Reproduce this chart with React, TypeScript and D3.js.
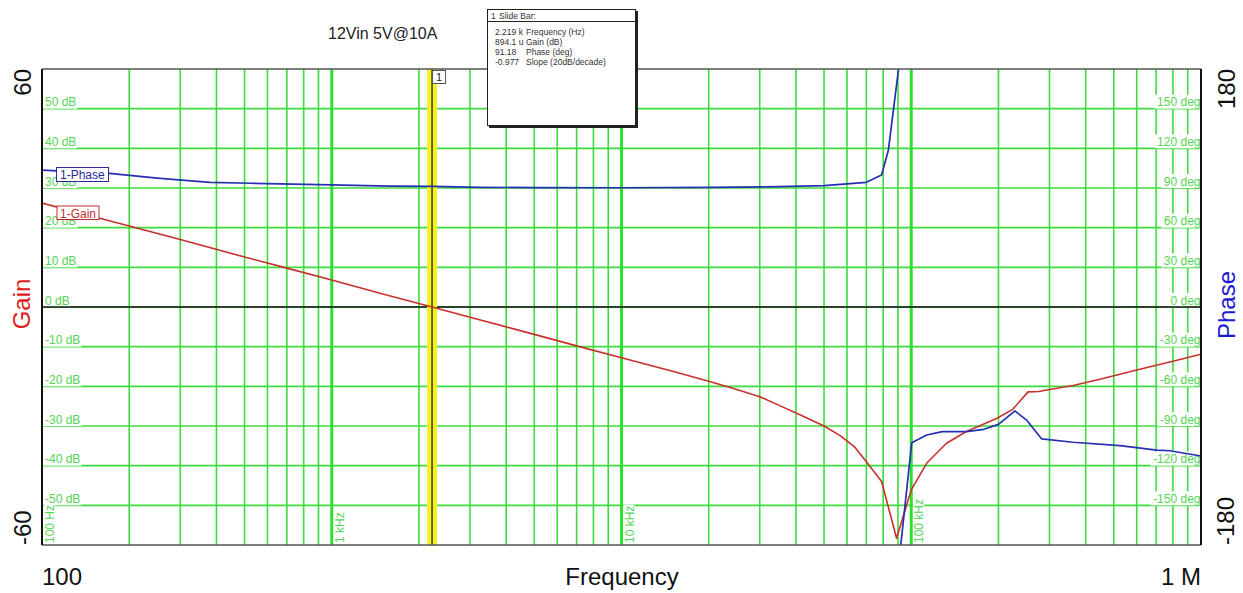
import React from 'react';
import * as d3 from 'd3';

const W = 1243;
const H = 593;
const PL = 42, PT = 69, PR = 1201, PB = 545;

// Gain series (Hz, dB)
const gainFreq = [100, 150, 200, 300, 500, 700, 1000, 1500, 2219, 3000, 5000, 7000, 10000, 15000, 20000, 25000, 30000, 35000, 42000, 50000, 57000, 64000, 70000, 79000, 89000, 100000, 113000, 132000, 155000, 197000, 224000, 253000, 275000, 300000, 362000, 448000, 600000, 800000, 1000000];
const gainDb = [26.2, 22.8, 20.4, 17.0, 12.6, 9.8, 6.8, 3.3, 0, -2.6, -6.9, -9.8, -12.8, -16.2, -18.7, -20.8, -22.6, -24.8, -27.4, -30.0, -32.5, -35.4, -39.0, -44.0, -58.3, -46.1, -39.4, -34.4, -31.4, -28.1, -25.8, -21.4, -21.3, -20.8, -19.8, -18.2, -15.9, -13.7, -11.9];

// Phase series, before wrap (Hz, deg)
const phaseFreqA = [100, 171, 250, 380, 527, 1000, 1590, 2219, 3260, 5000, 10000, 20000, 35000, 50000, 57000, 70000, 79000, 83400, 91000];
const phaseDegA = [103.5, 101.1, 97.5, 94.3, 93.6, 92.3, 91.4, 91.18, 90.5, 90.3, 90.2, 90.4, 91.0, 91.8, 92.8, 94.3, 99.8, 118.8, 185];
// Phase series, after wrap
const phaseFreqB = [91500, 100400, 113000, 128000, 155000, 178000, 200000, 228000, 250000, 282000, 362000, 525000, 703000, 780000, 1000000];
const phaseDegB = [-185, -102.6, -96.8, -94.3, -94.3, -92.5, -88.8, -78.6, -85.5, -99.8, -102.3, -104.9, -108.2, -108.7, -112.7];

const gainTicks = [50, 40, 30, 20, 10, 0, -10, -20, -30, -40, -50];
const phaseTicks = [150, 120, 90, 60, 30, 0, -30, -60, -90, -120, -150];
const freqDecades = [100, 1000, 10000, 100000];
const freqTickLabels = ['100 Hz', '1 kHz', '10 kHz', '100 kHz'];

const cursorFreq = 2219;
const infoValues = ['2.219 k', '894.1 u', '91.18', '-0.977'];
const infoNames = ['Frequency (Hz)', 'Gain (dB)', 'Phase (deg)', 'Slope (20dB/decade)'];

const FONT = '"Liberation Sans", Arial, Helvetica, sans-serif';
const GRID = '#3cdc3c';
const LABEL_GREEN = '#55d455';

const charW: Record<string, number> = { ' ': 0.278, '-': 0.333, 'd': 0.556, 'e': 0.556, 'g': 0.556, 'B': 0.667, 'H': 0.722, 'z': 0.5, 'k': 0.5 };
function textW(s: string, size: number) {
  let w = 0;
  for (const c of s) w += (charW[c] ?? 0.556);
  return w * size;
}

export default function App() {
  const x = d3.scaleLog().domain([100, 1e6]).range([PL, PR]);
  const yG = d3.scaleLinear().domain([-60, 60]).range([PB, PT]);
  const yP = d3.scaleLinear().domain([-180, 180]).range([PB, PT]);

  const gainLine = d3.line<number>().x((_, i) => x(gainFreq[i])).y((d) => yG(d))(gainDb) || '';
  const phaseLineA = d3.line<number>().x((_, i) => x(phaseFreqA[i])).y((d) => yP(d))(phaseDegA) || '';
  const phaseLineB = d3.line<number>().x((_, i) => x(phaseFreqB[i])).y((d) => yP(d))(phaseDegB) || '';

  const vLines: { f: number; major: boolean }[] = [];
  freqDecades.forEach((d) => {
    for (let m = 1; m <= 9; m++) {
      const f = d * m;
      if (f <= 100) continue;
      vLines.push({ f, major: m === 1 });
    }
  });

  const cx = x(cursorFreq);
  const labelSize = 12;

  return (
    <svg width={W} height={H} style={{ position: 'absolute', left: 0, top: 0, background: '#fff' }} fontFamily={FONT}>
      <defs>
        <clipPath id="plotclip">
          <rect x={PL} y={PT} width={PR - PL} height={PB - PT} />
        </clipPath>
      </defs>
      <rect x={0} y={0} width={W} height={H} fill="#fff" />

      {/* grid */}
      <g>
        {gainTicks.map((g) => (
          <line key={'h' + g} x1={PL} x2={PR} y1={yG(g)} y2={yG(g)} stroke={GRID} strokeWidth={1.6} />
        ))}
        {vLines.map((v) => (
          <line key={'v' + v.f} x1={x(v.f)} x2={x(v.f)} y1={PT} y2={PB} stroke={v.major ? '#2ee02e' : GRID} strokeWidth={v.major ? 3 : 1.6} />
        ))}
      </g>

      {/* left gain labels */}
      {gainTicks.map((g) => {
        const lbl = `${g} dB`;
        const w = textW(lbl, labelSize);
        const y = yG(g);
        return (
          <g key={'gl' + g}>
            <rect x={PL} y={y - 12} width={w + 4} height={12} fill="#fff" />
            <text x={45} y={y - 2.5} fontSize={labelSize} fill={LABEL_GREEN}>{lbl}</text>
          </g>
        );
      })}
      {/* right phase labels */}
      {phaseTicks.map((p) => {
        const lbl = `${p} deg`;
        const w = textW(lbl, labelSize);
        const y = yP(p);
        return (
          <g key={'pl' + p}>
            <rect x={PR - w - 3} y={y - 14} width={w + 3} height={14} fill="#fff" />
            <text x={PR - 0.5} y={y - 2.5} fontSize={labelSize} fill={LABEL_GREEN} textAnchor="end">{lbl}</text>
          </g>
        );
      })}
      {/* rotated frequency labels */}
      {freqDecades.map((f, i) => {
        const lbl = freqTickLabels[i];
        const w = textW(lbl, labelSize);
        const bx = x(f) + 12;
        return (
          <g key={'fl' + f} transform={`translate(${bx},${PB - 2}) rotate(-90)`}>
            <rect x={-1} y={-10} width={w + 2} height={11} fill="#fff" />
            <text x={0} y={0} fontSize={labelSize} fill={LABEL_GREEN}>{lbl}</text>
          </g>
        );
      })}

      {/* zero line */}
      <line x1={PL} x2={PR} y1={yG(0)} y2={yG(0)} stroke="#111" strokeWidth={1.4} />

      {/* cursor */}
      <rect x={cx - 5} y={PT} width={10} height={PB - PT} fill="#f5f020" />
      <line x1={cx} x2={cx} y1={PT} y2={PB} stroke="#111" strokeWidth={1.2} />

      {/* curves */}
      <g clipPath="url(#plotclip)">
        <path d={gainLine} fill="none" stroke="#c8302c" strokeWidth={1.6} strokeLinejoin="round" />
        <path d={phaseLineA} fill="none" stroke="#2430b0" strokeWidth={1.7} strokeLinejoin="round" />
        <path d={phaseLineB} fill="none" stroke="#2430b0" strokeWidth={1.7} strokeLinejoin="round" />
      </g>

      {/* series label boxes */}
      <g>
        <rect x={56.5} y={167.5} width={52} height={14} fill="#fff" stroke="#2a2a9a" strokeWidth={1} />
        <text x={60} y={179} fontSize={12} fill="#2a2a9a">1-Phase</text>
        <rect x={57} y={206} width={42} height={13.5} fill="#fff" stroke="#c03030" strokeWidth={1} />
        <text x={60} y={217.5} fontSize={12} fill="#c03030">1-Gain</text>
      </g>

      {/* plot border */}
      <line x1={PL} x2={PR} y1={PT} y2={PT} stroke="#555" strokeWidth={1.5} />
      <line x1={PL} x2={PR} y1={PB} y2={PB} stroke="#555" strokeWidth={1.5} />
      <line x1={PL} x2={PL} y1={PT} y2={PB} stroke="#111" strokeWidth={2} />
      <line x1={PR} x2={PR} y1={PT} y2={PB} stroke="#111" strokeWidth={2} />

      {/* cursor tag */}
      <rect x={cx + 0.5} y={70.5} width={13} height={13} fill="#fff" stroke="#555" strokeWidth={1} />
      <text x={cx + 7} y={81} fontSize={11} textAnchor="middle" fill="#222">1</text>

      {/* title */}
      <text x={328} y={39} fontSize={16} fill="#222">12Vin 5V@10A</text>

      {/* info box */}
      <g>
        <rect x={489} y={11} width={149} height={117} fill="#222" />
        <rect x={487.5} y={9.5} width={148} height={116} fill="#fff" stroke="#222" strokeWidth={1} />
        <line x1={487.5} x2={635.5} y1={21.5} y2={21.5} stroke="#222" strokeWidth={1} />
        <text x={491} y={19} fontSize={8.5} fill="#333">1</text>
        <text x={499} y={19} fontSize={8.5} fill="#333">Slide Bar:</text>
        {infoValues.map((v, i) => (
          <g key={'iv' + i}>
            <text x={495} y={35 + i * 10} fontSize={8.5} fill="#333">{v}</text>
            <text x={526} y={35 + i * 10} fontSize={8.5} fill="#333">{infoNames[i]}</text>
          </g>
        ))}
      </g>

      {/* axis titles */}
      <text transform={`translate(31,${PT}) rotate(-90)`} fontSize={24} textAnchor="end" fill="#111">60</text>
      <text transform={`translate(31,${PB}) rotate(-90)`} fontSize={24} textAnchor="start" fill="#111">-60</text>
      <text transform={`translate(30,304) rotate(-90)`} fontSize={24} textAnchor="middle" fill="#e01818">Gain</text>
      <text transform={`translate(1235,${PT}) rotate(-90)`} fontSize={24} textAnchor="end" fill="#111">180</text>
      <text transform={`translate(1234,${PB}) rotate(-90)`} fontSize={24} textAnchor="start" fill="#111">-180</text>
      <text transform={`translate(1235,305) rotate(-90)`} fontSize={24} textAnchor="middle" fill="#1a1ad0">Phase</text>

      <text x={PL} y={585} fontSize={24} fill="#111">100</text>
      <text x={622} y={585} fontSize={24} textAnchor="middle" fill="#111">Frequency</text>
      <text x={PR} y={585} fontSize={24} textAnchor="end" fill="#111">1 M</text>
    </svg>
  );
}
